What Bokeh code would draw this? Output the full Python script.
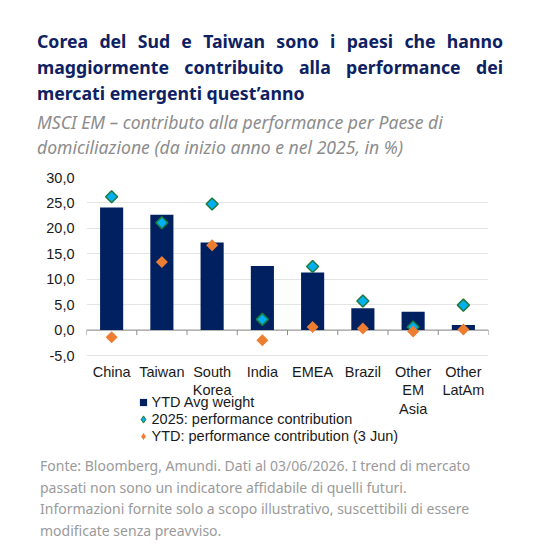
import numpy as np
from bokeh.plotting import figure
from bokeh.models import Div, Range1d, FixedTicker, Span, Legend, LegendItem
from bokeh.core.properties import value
from bokeh.layouts import column
from bokeh.embed import file_html
from bokeh.resources import INLINE

# --- data -----------------------------------------------------------------
countries = ["China", "Taiwan", "South Korea", "India", "EMEA", "Brazil",
             "Other EM Asia", "Other LatAm"]
country_labels = ["China", "Taiwan", "South\nKorea", "India", "EMEA", "Brazil",
                  "Other\nEM\nAsia", "Other\nLatAm"]
ytd_avg_weight = [24.1, 22.7, 17.2, 12.6, 11.3, 4.3, 3.6, 1.0]
contrib_2025 = [26.2, 21.1, 24.8, 2.1, 12.5, 5.7, 0.6, 4.9]
contrib_ytd = [-1.4, 13.4, 16.7, -2.0, 0.6, 0.3, -0.3, 0.1]
y_ticks = [-5, 0, 5, 10, 15, 20, 25, 30]
y_tick_labels = ["-5,0", "0,0", "5,0", "10,0", "15,0", "20,0", "25,0", "30,0"]
legend_labels = ["YTD Avg weight", "2025: performance contribution",
                 "YTD: performance contribution (3 Jun)"]

title_lines = ["Corea del Sud e Taiwan sono i paesi che hanno",
               "maggiormente contribuito alla performance dei",
               "mercati emergenti quest’anno"]
subtitle_lines = ["MSCI EM – contributo alla performance per Paese di",
                  "domiciliazione (da inizio anno e nel 2025, in %)"]
footer_lines = ["Fonte: Bloomberg, Amundi. Dati al 03/06/2026. I trend di mercato",
                "passati non sono un indicatore affidabile di quelli futuri.",
                "Informazioni fornite solo a scopo illustrativo, suscettibili di essere",
                "modificate senza preavviso."]

NAVY = "#002060"
CYAN = "#00b0f0"
GREEN_EDGE = "#1f7a3c"
ORANGE = "#ed7d31"
AXIS_GREY = "#8c8c8c"
CHART_FONT = "Liberation Sans"
TEXT_FONT = "Noto Sans"

n = len(countries)
centers = np.arange(n) + 0.5
bounds = np.arange(n + 1)
y_lo, y_hi = min(y_ticks), max(y_ticks)

# --- header ---------------------------------------------------------------
TITLE_W = 466
title_html = "".join(
    f'<div style="display:block;width:{TITLE_W}px;text-align:justify;'
    f'text-align-last:justify">{t}</div>'
    for t in title_lines[:-1]
) + f'<div style="display:block">{title_lines[-1]}</div>'
title = Div(text=title_html, width=TITLE_W, height=78, margin=(28, 0, 0, 37),
            styles={"font-family": TEXT_FONT, "font-size": "17.7px",
                    "font-weight": "bold", "color": "#0d2163",
                    "line-height": "26px", "white-space": "nowrap"})

subtitle = Div(text="<br>".join(subtitle_lines), width=480, height=50,
               margin=(4, 0, 0, 37),
               styles={"font-family": TEXT_FONT, "font-size": "17.6px",
                       "font-style": "italic", "color": "#8c8c8c",
                       "line-height": "25px", "white-space": "nowrap"})

# --- chart ----------------------------------------------------------------
FIG_H = 290
BORDER_TOP = 17
BORDER_BOTTOM = 2
PLOT_SPAN_PX = 178          # pixel height of the -5..30 band
frame_h = FIG_H - BORDER_TOP - BORDER_BOTTOM
px_per_unit = PLOT_SPAN_PX / (y_hi - y_lo)
y_min = y_hi - frame_h / px_per_unit   # room below the value band for labels + legend

p = figure(width=551, height=FIG_H, x_range=Range1d(0, n),
           y_range=Range1d(y_min, y_hi),
           output_backend="svg", toolbar_location=None,
           min_border_left=86, min_border_right=63,
           min_border_top=BORDER_TOP, min_border_bottom=BORDER_BOTTOM)
p.outline_line_color = None
p.background_fill_color = "white"
p.border_fill_color = "white"

p.xgrid.visible = False
p.ygrid.ticker = FixedTicker(ticks=y_ticks)
p.ygrid.grid_line_color = "#e4e4e4"
p.ygrid.grid_line_width = 1

zero_line = Span(location=0, dimension="width", line_color=AXIS_GREY,
                 line_width=1, level="underlay")
p.add_layout(zero_line)

# category separators hanging below the zero line
tick_len = 5 / px_per_unit
p.segment(x0=bounds, y0=[0] * (n + 1), x1=bounds, y1=[-tick_len] * (n + 1),
          line_color=AXIS_GREY, line_width=1)

bars = p.vbar(x=centers, top=ytd_avg_weight, width=0.46, fill_color=NAVY,
              line_color=None)
pts_2025 = p.scatter(x=centers, y=contrib_2025, marker="square", angle=np.pi / 4,
                     size=8.5, fill_color=CYAN, line_color=GREEN_EDGE,
                     line_width=1.5)
pts_ytd = p.scatter(x=centers, y=contrib_ytd, marker="square", angle=np.pi / 4,
                    size=8.5, fill_color=ORANGE, line_color=None)

# legend swatches (no visible points in the plot area)
nan_pt = dict(x=[np.nan], y=[np.nan])
sw_bar = p.scatter(**nan_pt, marker="square", fill_color=NAVY, line_color=None)
sw_2025 = p.scatter(**nan_pt, marker="diamond", fill_color=CYAN,
                    line_color=GREEN_EDGE, line_width=1)
sw_ytd = p.scatter(**nan_pt, marker="diamond", fill_color=ORANGE, line_color=None)

# category names under the value band
label_y = y_lo - 8 / px_per_unit
p.text(x=centers, y=[label_y] * n, text=country_labels,
       text_font=value(CHART_FONT), text_font_size="14.5px",
       text_color="#1a1a1a", text_align="center", text_baseline="top",
       text_line_height=1.17)

# axes
p.yaxis.ticker = FixedTicker(ticks=y_ticks)
p.yaxis.major_label_overrides = dict(zip(y_ticks, y_tick_labels))
p.yaxis.axis_line_color = None
p.yaxis.major_tick_line_color = None
p.yaxis.minor_tick_line_color = None
p.yaxis.major_tick_out = 0
p.yaxis.major_label_standoff = 12
p.yaxis.major_label_text_font = CHART_FONT
p.yaxis.major_label_text_font_size = "14.5px"
p.yaxis.major_label_text_color = "#1a1a1a"
p.xaxis.visible = False

# one single-row legend per entry so that each row sits at a fixed pitch
LEG_BOX = 18
LEG_FIRST = 47              # first row centre, px below the -5 gridline
LEG_PITCH = 17
below_band = frame_h - PLOT_SPAN_PX
for i, (lab, rend) in enumerate(zip(legend_labels, [sw_bar, sw_2025, sw_ytd])):
    row_c = LEG_FIRST + i * LEG_PITCH
    lg = Legend(items=[LegendItem(label=lab, renderers=[rend])],
                location=(47.5, below_band - row_c - LEG_BOX / 2))
    lg.glyph_width = LEG_BOX
    lg.glyph_height = LEG_BOX
    lg.label_height = LEG_BOX
    lg.label_standoff = -2
    lg.padding = 0
    lg.margin = 0
    lg.border_line_color = None
    lg.background_fill_alpha = 0
    lg.label_text_font = CHART_FONT
    lg.label_text_font_size = "14.5px"
    lg.label_text_color = "#1a1a1a"
    p.add_layout(lg)

# --- footer ---------------------------------------------------------------
footer = Div(text="<br>".join(footer_lines), width=500, height=87,
             margin=(5, 0, 0, 40),
             styles={"font-family": TEXT_FONT, "font-size": "14px",
                     "color": "#9a9a9a", "line-height": "21.7px",
                     "white-space": "nowrap"})

layout = column(title, subtitle, p, footer, spacing=0)
open("out.html", "w").write(file_html(layout, INLINE))
